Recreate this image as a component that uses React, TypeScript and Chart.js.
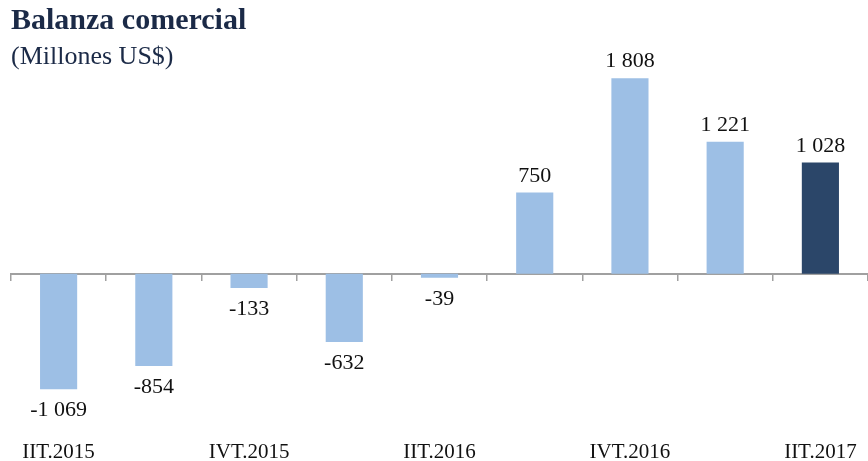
import React, { useEffect, useRef } from "react";
import { Chart, registerables } from "chart.js";

Chart.register(...registerables);

const categories = [
  "IIT.2015", "IIIT.2015", "IVT.2015", "IT.2016", "IIT.2016",
  "IIIT.2016", "IVT.2016", "IT.2017", "IIT.2017",
];
const values = [-1069, -854, -133, -632, -39, 750, 1808, 1221, 1028];
const barColors = [
  "#9dbfe5", "#9dbfe5", "#9dbfe5", "#9dbfe5", "#9dbfe5",
  "#9dbfe5", "#9dbfe5", "#9dbfe5", "#2b4669",
];
const titleText = "Balanza comercial";
const subtitleText = "(Millones US$)";

const SERIF = "'Liberation Serif', 'Times New Roman', serif";

function fmt(v: number): string {
  const s = Math.abs(v).toString().replace(/\B(?=(\d{3})+(?!\d))/g, " ");
  return (v < 0 ? "-" : "") + s;
}

const dataLabels = {
  id: "dataLabels",
  afterDatasetsDraw(chart: any) {
    const ctx = chart.ctx;
    const meta = chart.getDatasetMeta(0);
    ctx.save();
    ctx.font = `22px ${SERIF}`;
    ctx.fillStyle = "#111111";
    ctx.textAlign = "center";
    meta.data.forEach((bar: any, i: number) => {
      const v = values[i];
      if (v >= 0) {
        ctx.textBaseline = "alphabetic";
        ctx.fillText(fmt(v), bar.x, bar.y - 11);
      } else {
        ctx.textBaseline = "top";
        ctx.fillText(fmt(v), bar.x, bar.y + 10);
      }
    });
    ctx.restore();
  },
};

export default function App() {
  const ref = useRef<HTMLCanvasElement | null>(null);
  useEffect(() => {
    if (!ref.current) return;
    const chart = new Chart(ref.current, {
      type: "bar",
      data: {
        labels: categories,
        datasets: [
          {
            data: values,
            backgroundColor: barColors,
            borderWidth: 0,
            categoryPercentage: 1,
            barPercentage: 0.39,
            clip: false,
          },
        ],
      },
      options: {
        animation: false,
        responsive: true,
        maintainAspectRatio: false,
        layout: { padding: { left: 11, right: 0, top: 1, bottom: -14 } },
        plugins: {
          legend: { display: false },
          tooltip: { enabled: false },
          title: {
            display: true,
            text: titleText,
            align: "start",
            color: "#1b2a47",
            font: { family: SERIF, size: 30, weight: "bold" },
            padding: { top: 2, bottom: 3 },
          },
          subtitle: {
            display: true,
            text: subtitleText,
            align: "start",
            color: "#1b2a47",
            font: { family: SERIF, size: 26, weight: "normal" },
            padding: { top: 0, bottom: 2 },
          },
        },
        scales: {
          y: {
            display: false,
            min: -1445,
            max: 1836,
          },
          x: {
            position: "bottom",
            grid: { display: false, drawTicks: false },
            border: { display: false },
            ticks: {
              autoSkip: false,
              maxRotation: 0,
              padding: 10,
              color: "#111111",
              font: { family: SERIF, size: 21 },
              callback: (_v: any, idx: number) => (idx % 2 === 0 ? categories[idx] : ""),
            },
          },
          xZero: {
            type: "category",
            axis: "x",
            position: { y: 0 },
            grid: {
              display: true,
              drawOnChartArea: false,
              drawTicks: true,
              tickLength: 6,
              offset: true,
              color: "#a0a0a0",
              lineWidth: 1.5,
            },
            border: { display: true, color: "#a0a0a0", width: 2 },
            ticks: { display: false },
          },
        },
      } as any,
      plugins: [dataLabels],
    });
    return () => chart.destroy();
  }, []);
  return (
    <div style={{ position: "fixed", left: 0, top: 0, width: 868, height: 461, background: "#ffffff" }}>
      <canvas ref={ref} />
    </div>
  );
}
